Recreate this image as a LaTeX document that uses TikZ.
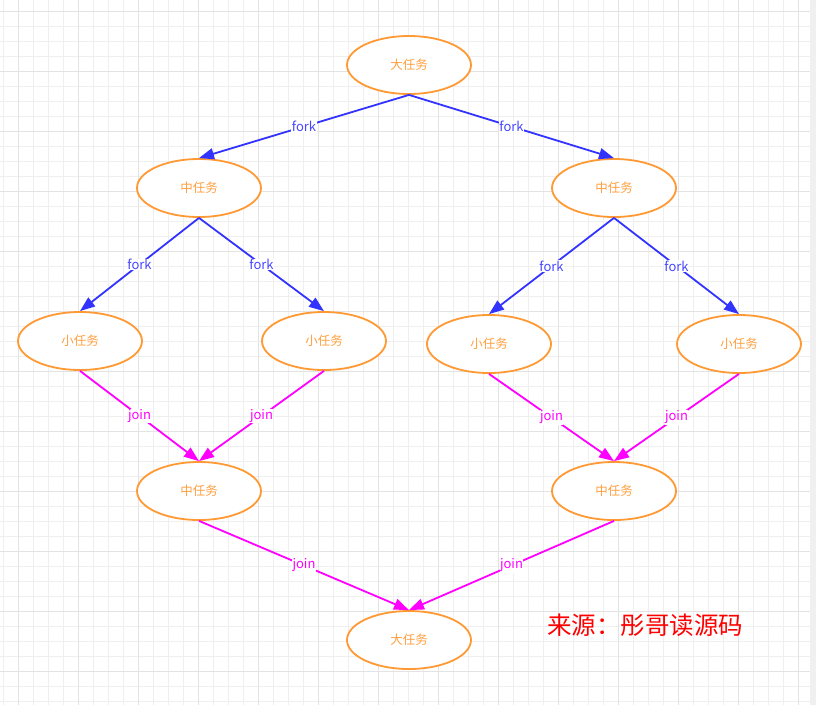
\documentclass[tikz,border=0pt]{standalone}
\usepackage{fontspec}
\newfontfamily\cjk{Noto Sans CJK SC}
\usetikzlibrary{arrows.meta,shapes.geometric}

\definecolor{taskorange}{HTML}{FF9933}
\definecolor{tasktext}{HTML}{FFA040}
\definecolor{forkblue}{HTML}{3333FF}
\definecolor{forktext}{HTML}{4646FF}
\definecolor{joinpink}{HTML}{FF00FF}
\definecolor{gridminor}{HTML}{EFEFEF}
\definecolor{gridmajor}{HTML}{E3E3E3}
\definecolor{sidebar}{HTML}{F0F0F0}

\tikzset{
  task/.style={ellipse, draw=taskorange, line width=1.8pt, fill=white,
    minimum width=124pt, minimum height=58pt, inner sep=0pt,
    text=tasktext, font=\cjk\fontsize{12.5}{14}\selectfont},
  forkline/.style={draw=forkblue, line width=1.8pt,
    -{Triangle[length=15pt,width=11pt]}},
  joinline/.style={draw=joinpink, line width=1.8pt,
    -{Triangle[length=15pt,width=11pt]}},
  forklabel/.style={fill=white, inner sep=0.5pt, text=forktext,
    font=\cjk\fontsize{13}{15}\selectfont},
  joinlabel/.style={fill=white, inner sep=0.5pt, text=joinpink,
    font=\cjk\fontsize{13}{15}\selectfont},
  minorgrid/.style={draw=gridminor, line width=1pt},
  majorgrid/.style={draw=gridmajor, line width=1pt},
}

\begin{document}
\begin{tikzpicture}[x=1pt,y=-1pt]
  \useasboundingbox (0,0) rectangle (816,705);
  \fill[white] (0,0) rectangle (816,705);

  % background grid: 15 px cells, heavier line every fourth cell
  \foreach \gx in {3.3,18.3,...,800} \draw[minorgrid] (\gx,0) -- (\gx,705);
  \foreach \gy in {11.7,26.7,...,705} \draw[minorgrid] (0,\gy) -- (810,\gy);
  \foreach \gx in {18.3,78.3,...,800} \draw[majorgrid] (\gx,0) -- (\gx,705);
  \foreach \gy in {11.7,71.7,...,705} \draw[majorgrid] (0,\gy) -- (810,\gy);
  \fill[sidebar] (810,0) rectangle (816,705);

  % tasks
  \node[task] (top)  at (409,65)  {大任务};
  \node[task] (ml)   at (199,188) {中任务};
  \node[task] (mr)   at (614,188) {中任务};
  \node[task] (s1)   at (80,341)  {小任务};
  \node[task] (s2)   at (324,341) {小任务};
  \node[task] (s3)   at (489,344) {小任务};
  \node[task] (s4)   at (739,344) {小任务};
  \node[task] (jl)   at (199,491) {中任务};
  \node[task] (jr)   at (614,491) {中任务};
  \node[task] (bot)  at (409,640) {大任务};

  % fork edges
  \draw[forkline] (top.south) -- node[forklabel] {fork} (ml.north);
  \draw[forkline] (top.south) -- node[forklabel] {fork} (mr.north);
  \draw[forkline] (ml.south) -- node[forklabel] {fork} (s1.north);
  \draw[forkline] (ml.south) -- node[forklabel] {fork} (s2.north);
  \draw[forkline] (mr.south) -- node[forklabel] {fork} (s3.north);
  \draw[forkline] (mr.south) -- node[forklabel] {fork} (s4.north);

  % join edges
  \draw[joinline] (s1.south) -- node[joinlabel] {join} (jl.north);
  \draw[joinline] (s2.south) -- node[joinlabel] {join} (jl.north);
  \draw[joinline] (s3.south) -- node[joinlabel] {join} (jr.north);
  \draw[joinline] (s4.south) -- node[joinlabel] {join} (jr.north);
  \draw[joinline] (jl.south) -- node[joinlabel] {join} (bot.north);
  \draw[joinline] (jr.south) -- node[joinlabel] {join} (bot.north);

  % source note
  \node[text=red, font=\cjk\fontsize{24.5}{28}\selectfont] (src) at (645,625) {来源：彤哥读源码};
\end{tikzpicture}
\end{document}
